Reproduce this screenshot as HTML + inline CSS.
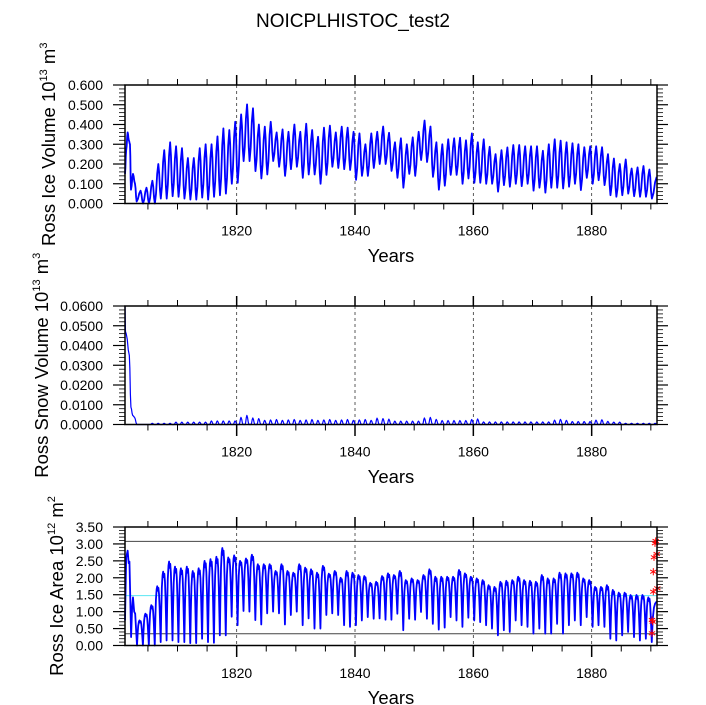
<!DOCTYPE html>
<html><head><meta charset="utf-8">
<style>
html,body{margin:0;padding:0;background:#fff;}
svg{display:block;}
text{font-family:"Liberation Sans",Arial,Helvetica,sans-serif;fill:#000;}
</style></head>
<body>
<svg id="s" width="706" height="705" viewBox="0 0 706 705" xmlns="http://www.w3.org/2000/svg">
<rect width="706" height="705" fill="#fff"/>
<g id="under"></g>
<g id="data"></g>
<g id="axes"></g>
<text x="353" y="27" font-size="19" text-anchor="middle">NOICPLHISTOC_test2</text>

<g font-size="14" text-anchor="end">
<text x="103" y="208.5">0.000</text>
<text x="103" y="188.75">0.100</text>
<text x="103" y="169">0.200</text>
<text x="103" y="149.25">0.300</text>
<text x="103" y="129.5">0.400</text>
<text x="103" y="109.75">0.500</text>
<text x="103" y="90">0.600</text>

<text x="103" y="429.5">0.0000</text>
<text x="103" y="409.75">0.0100</text>
<text x="103" y="390">0.0200</text>
<text x="103" y="370.25">0.0300</text>
<text x="103" y="350.5">0.0400</text>
<text x="103" y="330.75">0.0500</text>
<text x="103" y="311">0.0600</text>

<text x="103" y="650.5">0.00</text>
<text x="103" y="633.57">0.50</text>
<text x="103" y="616.64">1.00</text>
<text x="103" y="599.71">1.50</text>
<text x="103" y="582.79">2.00</text>
<text x="103" y="565.86">2.50</text>
<text x="103" y="548.93">3.00</text>
<text x="103" y="532">3.50</text>
</g>

<g font-size="14" text-anchor="middle">
<text x="236.67" y="235.7">1820</text>
<text x="355" y="235.7">1840</text>
<text x="473.33" y="235.7">1860</text>
<text x="591.67" y="235.7">1880</text>
<text x="236.67" y="456.7">1820</text>
<text x="355" y="456.7">1840</text>
<text x="473.33" y="456.7">1860</text>
<text x="591.67" y="456.7">1880</text>
<text x="236.67" y="678">1820</text>
<text x="355" y="678">1840</text>
<text x="473.33" y="678">1860</text>
<text x="591.67" y="678">1880</text>
</g>

<g font-size="18.5" text-anchor="middle">
<text x="391" y="262">Years</text>
<text x="391" y="483">Years</text>
<text x="391" y="704">Years</text>
</g>

<text font-size="18.5" text-anchor="middle" transform="translate(55,144.25) rotate(-90)">Ross Ice Volume 10<tspan font-size="11" dy="-8">13</tspan><tspan dy="8"> m</tspan><tspan font-size="11" dy="-8">3</tspan></text>
<text font-size="18.5" text-anchor="middle" transform="translate(48,365.25) rotate(-90)">Ross Snow Volume 10<tspan font-size="11" dy="-8">13</tspan><tspan dy="8"> m</tspan><tspan font-size="11" dy="-8">3</tspan></text>
<text font-size="18.5" text-anchor="middle" transform="translate(63,586) rotate(-90)">Ross Ice Area 10<tspan font-size="11" dy="-8">12</tspan><tspan dy="8"> m</tspan><tspan font-size="11" dy="-8">2</tspan></text>
</svg>
<script>
(function(){
const NS="http://www.w3.org/2000/svg";
const under=document.getElementById('under'),dataG=document.getElementById('data'),axes=document.getElementById('axes');
function el(tag,attrs,parent){const e=document.createElementNS(NS,tag);for(const k in attrs)e.setAttribute(k,attrs[k]);parent.appendChild(e);return e;}
const X0=125,X1=657,PX=5.9167;
const xYear=y=>236.67+(y-1820)*PX;
const xu=u=>X0+u*PX;
const panels=[
 {top:85,bot:203.5,max:0.6,maj:0.1,min:0.02},
 {top:306,bot:424.5,max:0.06,maj:0.01,min:0.002},
 {top:527,bot:645.5,max:3.5,maj:0.5,min:0.1}];
function yv(p,v){return p.bot-v/p.max*(p.bot-p.top);}

panels.forEach(p=>{
  [1820,1840,1860,1880].forEach(y=>{
    const x=xYear(y);
    el('line',{x1:x,y1:p.top,x2:x,y2:p.bot,stroke:'#333','stroke-width':0.8,'stroke-dasharray':'3,3'},under);
  });
  el('rect',{x:X0,y:p.top,width:X1-X0,height:p.bot-p.top,fill:'none',stroke:'#000','stroke-width':1.5},axes);
  for(let y=1805;y<=1890;y+=5){
    const x=xYear(y);const maj=(y%20===0);
    const lt=maj?10:6, lb=maj?11.5:6, w=maj?1.5:1;
    el('line',{x1:x,y1:p.top,x2:x,y2:p.top-lt,stroke:'#000','stroke-width':w},axes);
    el('line',{x1:x,y1:p.bot,x2:x,y2:p.bot+lb,stroke:'#000','stroke-width':w},axes);
  }
  const nmin=Math.round(p.max/p.min);
  const per=Math.round(p.maj/p.min);
  for(let i=0;i<=nmin;i++){
    const v=i*p.min;const y=yv(p,v);const maj=(i%per===0);
    const l=maj?12:6, r=maj?11:6, w=maj?1.2:0.8;
    el('line',{x1:X0,y1:y,x2:X0-l,y2:y,stroke:'#000','stroke-width':w},axes);
    el('line',{x1:X1,y1:y,x2:X1+r,y2:y,stroke:'#000','stroke-width':w},axes);
  }
});

const p3=panels[2];
[[3.076,'#444'],[0.347,'#444'],[1.474,'#5ae6f2']].forEach(a=>{
  const y=yv(p3,a[0]);
  el('line',{x1:X0,y1:y,x2:X1,y2:y,stroke:a[1],'stroke-width':1},under);
});

function interp(ext,n){
  const pts=[];
  for(let i=0;i<ext.length-1;i++){
    const [u0,v0]=ext[i],[u1,v1]=ext[i+1];
    for(let j=0;j<n;j++){const f=j/n;const g=(1-Math.cos(Math.PI*f))/2;pts.push([u0+(u1-u0)*f,v0+(v1-v0)*g]);}
  }
  pts.push(ext[ext.length-1]);return pts;
}
function draw(pts,p,w){
  let d='';
  pts.forEach((q,i)=>{const x=xu(q[0]).toFixed(2),y=yv(p,q[1]).toFixed(2);d+=(i?'L':'M')+x+' '+y;});
  el('path',{d:d,fill:'none',stroke:'#0000ff','stroke-width':w,'stroke-linejoin':'round'},dataG);
}

const P1=[0.36,0.15,0.065,0.08,0.115,0.20,0.27,0.31,0.29,0.28,0.23,0.23,0.28,0.30,0.30,0.34,0.38,0.372,0.414,0.451,0.502,0.482,0.40,0.389,0.414,0.36,0.375,0.363,0.40,0.363,0.404,0.372,0.338,0.384,0.394,0.36,0.389,0.384,0.363,0.355,0.30,0.355,0.363,0.39,0.358,0.31,0.33,0.30,0.335,0.363,0.42,0.39,0.31,0.30,0.325,0.33,0.333,0.32,0.355,0.31,0.325,0.287,0.25,0.27,0.284,0.296,0.296,0.29,0.29,0.29,0.267,0.30,0.325,0.318,0.31,0.305,0.30,0.285,0.29,0.29,0.285,0.25,0.228,0.20,0.223,0.177,0.183,0.19,0.172];
const T1=[0.07,0.01,0.0,0.0,0.0,0.025,0.025,0.037,0.034,0.025,
0.02,0.02,0.03,0.02,0.034,0.042,0.05,0.10,0.105,0.215,
0.215,0.164,0.127,0.147,0.215,0.186,0.14,0.174,0.186,0.13,
0.147,0.147,0.10,0.145,0.186,0.18,0.174,
0.17,0.12,0.14,0.14,0.18,0.2,0.2,0.165,0.13,0.08,0.15,0.14,0.22,0.21,0.135,0.07,0.09,0.145,0.145,0.1,0.127,0.105,0.105,0.1,0.1,0.06,0.093,0.085,0.1,0.088,0.1,0.065,0.08,0.055,0.08,0.08,0.076,0.085,0.1,0.068,0.13,0.1,0.118,0.093,0.042,0.034,0.042,0.05,0.037,0.034,0.034,0.025];
let e1=[[0,0.15],[0.2,0.27],[0.45,0.36],[0.65,0.32],[0.84,0.30],[1.01,0.07],[1.35,0.15],[1.69,0.10],[1.97,0.01]];
for(let i=2;i<=88;i++){e1.push([i+0.63,P1[i]]);e1.push([i+1.05,T1[i]]);}
e1.push([89.86,0.135]);
draw(interp(e1,3),panels[0],1.8);

function snowPeak(y){
  if(y<1805)return 0;
  if(y<=1808)return 0.0006;
  if(y<=1814)return 0.0012;
  if(y<=1819)return 0.0018;
  const m={1820:0.0036,1821:0.0046,1822:0.0033,1823:0.003,1843:0.0032,1844:0.003,1845:0.0027,1851:0.0033,1852:0.0036,1853:0.0026,1859:0.0025,1860:0.0028,1873:0.0022,1874:0.0026,1875:0.0021,1880:0.0022,1881:0.0024,1882:0.0016};
  if(m[y]!==undefined)return m[y];
  if(y<=1842)return 0.0021+0.0004*((y*7)%3)/2;
  if(y<=1850)return 0.0017;
  if(y<=1858)return 0.002;
  if(y<=1872)return 0.0013;
  if(y<=1879)return 0.0015;
  if(y<=1884)return 0.0012;
  return 0.0006;
}
let e2=[[0,0.06],[0.08,0.047],[0.2,0.046],[0.73,0.035],[1.0,0.0088],[1.3,0.0046],[1.6,0.0037],[2.0,0]];
for(let i=2;i<=88;i++){const pk=snowPeak(1801+i);e2.push([i+0.3,0]);e2.push([i+0.6,pk]);e2.push([i+0.95,0]);}
e2.push([89.3,0]);e2.push([89.6,0.0006]);e2.push([89.86,0.0002]);
draw(interp(e2,3),panels[1],1.2);

const P3=[0.74,0.94,1.19,1.75,2.18,2.48,2.33,2.28,2.33,2.2,
2.28,2.5,2.55,2.62,2.88,2.6,2.66,2.5,2.57,2.68,
2.4,2.4,2.4,2.2,2.4,2.2,2.15,2.4,2.3,2.25,
2.15,2.35,2.12,2.2,2.0,2.2,2.15,2.08,2.05,1.85,
1.88,2.05,2.13,2.08,2.2,1.93,1.98,1.93,2.08,2.25,
2.03,2.03,2.03,2.03,2.23,2.13,2.03,1.98,1.93,1.78,
1.73,1.88,1.91,1.93,2.03,1.93,1.91,1.88,2.08,1.98,
1.98,2.15,2.13,2.13,2.15,1.98,1.93,1.73,1.73,1.78,
1.64,1.56,1.56,1.49,1.49,1.49,1.42];
const T3=[0,0,0,0,0.1,0.15,0.15,0.1,0.1,0.07,
0.07,0.2,0.1,0.08,0.3,0.3,0.85,0.6,1.02,1.0,
0.75,0.62,0.95,1.0,0.95,0.62,0.9,1.0,0.6,0.8,
0.5,0.5,0.9,0.95,0.9,0.6,0.55,0.6,0.74,0.84,
0.79,0.8,0.76,0.76,0.94,0.45,0.79,0.76,0.99,0.79,
0.64,0.47,0.53,0.84,0.74,0.55,0.82,0.74,0.69,0.6,
0.5,0.3,0.45,0.4,0.74,0.6,0.55,0.35,0.5,0.35,
0.35,0.64,0.35,0.6,0.74,0.6,0.84,0.55,0.6,0.55,
0.2,0.15,0.3,0.4,0.25,0.15,0.2,0.1];
const shape=[[0.1,0.45],[0.2,0.78],[0.32,0.95],[0.42,1.0],[0.52,0.92],[0.62,0.97],[0.72,0.86],[0.82,0.62],[0.92,0.28]];
let e3=[[0,0.74],[0.2,2.6],[0.45,2.8],[0.62,2.43],[0.75,2.48],[0.88,1.5],[1.03,0.25],[1.2,1.1],[1.35,1.42],[1.55,1.0],[1.72,0.94],[1.88,0.45],[2.03,0]];
for(let k=2;k<=88;k++){
  const t0=T3[k-2],t1=T3[k-1],P=P3[k-2];
  shape.forEach(s=>{const f=s[0],g=s[1];const base=f<=0.5?t0:t1;e3.push([k+0.03+f,base+(P-base)*g]);});
  e3.push([k+1.03,t1]);
}
e3.push([89.2,0.8]);e3.push([89.4,1.12]);e3.push([89.6,1.24]);e3.push([89.86,1.3]);
draw(e3,panels[2],1.8);

const stars=[[655.7,541],[655,543.3],[656.7,554],[654,557.3],[653.3,571.7],[657.3,588.3],[653.3,591.7],[652,620],[652.7,621.7],[652,633.3]];
stars.forEach(s=>{
  const r=3.6;
  [90,30,150].forEach(a=>{
    const ra=a*Math.PI/180,dx=r*Math.cos(ra),dy=r*Math.sin(ra);
    el('line',{x1:s[0]-dx,y1:s[1]-dy,x2:s[0]+dx,y2:s[1]+dy,stroke:'#ff0000','stroke-width':1},dataG);
  });
});
})();
</script>
</body></html>
